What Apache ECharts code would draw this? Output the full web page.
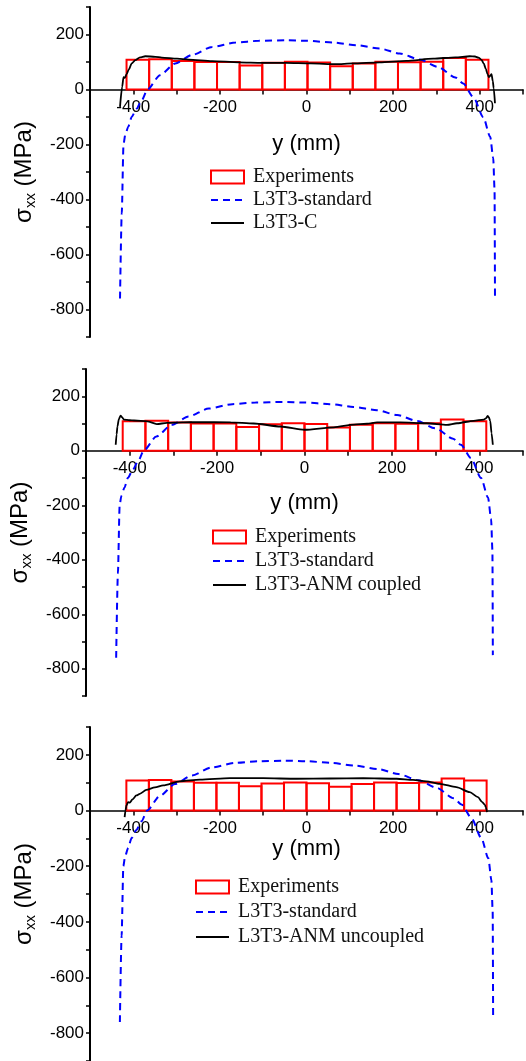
<!DOCTYPE html>
<html>
<head>
<meta charset="utf-8">
<script src="https://cdn.jsdelivr.net/npm/echarts@6/dist/echarts.min.js"></script>
<style>
html,body{margin:0;padding:0;background:#fff;}
#chart{width:526px;height:1061px;}
</style>
</head>
<body>
<div id="chart"></div>
<script>
// Experiments (same measurements in every panel): bar centres (mm), bar width (mm), stress (MPa)
const expCenters = [-390,-338,-286,-234,-182,-130,-78,-26,26,78,130,182,234,286,338,390];
const expWidth = 52;
const expValues = [108,110,104,100,100,87,97,101,98,85,95,101,99,101,115,108];

// L3T3-standard (blue dashed)
const stdX = [-431,-427,-423,-419,-412,-404,-393,-381,-368,-339,-304,-265,-219,-165,-112,-50,0,58,112,166,212,258,300,340,358,381,404,420,427,430,431];
const stdY = [-760,-450,-200,-165,-135,-99,-70,-39,0,52,95,126,155,171,177,179,177,171,161,149,131,109,82,44,22,-27,-100,-172,-250,-364,-750];

// Panel 1: L3T3-C
const cX = [-431,-426,-423,-420,-416,-411,-404,-396,-385,-373,-350,-335,-300,-273,-219,-158,-104,-50,8,65,104,166,227,289,340,373,385,393,400,405,410,414,417,420,423,426,428,431];
const cY = [-63,10,45,42,55,72,95,107,117,121,119,116,112,109,103,99,97,97,95,92,95,99,104,112,117,121,120,116,108,95,75,55,45,50,56,30,5,-50];

// Panel 2: L3T3-ANM coupled
const aX = [-432,-430,-428,-425,-421,-417,-413,-400,-390,-360,-338,-315,-280,-245,-169,-116,-55,0,67,113,143,166,219,280,326,349,387,410,416,419,422,425,428,431];
const aY = [22,60,89,115,129,122,114,112,111,108,98,102,104,105,104,100,89,77,86,96,99,104,104,101,95,101,110,114,120,128,122,110,65,22];

// Panel 3: L3T3-ANM uncoupled
const uX = [-420,-418,-416,-412,-408,-402,-393,-385,-370,-350,-331,-293,-246,-177,-100,-23,54,131,208,246,277,308,346,377,396,406,412,414,417];
const uY = [-24,0,18,30,28,40,54,60,74,83,90,105,111,116,116,114,115,116,114,110,105,96,84,66,48,30,20,12,-6];

// Axis ticks
const xTickLabels = [-400,-200,0,200,400];
const yTickLabels = [200,0,-200,-400,-600,-800];

const zip = (xs, ys) => xs.map((x, i) => [x, ys[i]]);

const modelNames = ['L3T3-C', 'L3T3-ANM coupled', 'L3T3-ANM uncoupled'];
const modelData = [zip(cX, cY), zip(aX, aY), zip(uX, uY)];

const X_MIN = -500, X_MAX = 500, Y_MIN = -900, Y_MAX = 300;

const grids = [
  {left: 90, top: 7, width: 435, height: 330},
  {left: 86, top: 369, width: 437, height: 327},
  {left: 90, top: 727, width: 433, height: 334}
];
// helper grids whose bottom edge sits on the y = 0 line of each panel (carry the x axis)
const axisGrids = grids.map(g => ({left: g.left, top: g.top, width: g.width,
  height: g.height * (Y_MAX - 0) / (Y_MAX - Y_MIN)}));

const xNameGaps = [43, 41, 27];
const legendPos = [
  {left: 210, top: 167, itemGap: 3},
  {left: 212, top: 527, itemGap: 4},
  {left: 195, top: 877, itemGap: 5}
];

const sans = 'Liberation Sans, Arial, Helvetica, sans-serif';
const serif = 'Liberation Serif, Times New Roman, serif';
const noSymbol = {color: 'rgba(0,0,0,0)', borderColor: 'rgba(0,0,0,0)', borderWidth: 0};

const option = {
  backgroundColor: '#fff',
  animation: false,
  grid: grids.concat(axisGrids),
  xAxis: grids.map((g, i) => ({
    type: 'value', gridIndex: i, min: X_MIN, max: X_MAX, interval: 100, show: false
  })).concat(axisGrids.map((g, i) => ({
    type: 'value', gridIndex: 3 + i, min: X_MIN, max: X_MAX, interval: 100,
    name: 'y (mm)', nameLocation: 'middle', nameGap: xNameGaps[i],
    nameTextStyle: {fontFamily: sans, fontSize: 22, color: '#000'},
    axisLine: {onZero: false, lineStyle: {color: '#000', width: 1.5}},
    axisTick: {show: true, inside: false, length: 5, lineStyle: {color: '#000', width: 1.5}},
    axisLabel: {
      margin: 9, fontFamily: sans, fontSize: 17, color: '#000',
      formatter: v => xTickLabels.indexOf(v) >= 0 ? String(v) : ''
    },
    splitLine: {show: false}
  }))),
  yAxis: grids.map((g, i) => ({
    type: 'value', gridIndex: i, min: Y_MIN, max: Y_MAX, interval: 100,
    name: '{s|σ}{sub|xx}{s| (MPa)}', nameLocation: 'middle', nameGap: 52, nameRotate: 90,
    nameTextStyle: {
      fontFamily: sans, fontSize: 24, color: '#000',
      rich: {
        s: {fontFamily: sans, fontSize: 24, color: '#000', lineHeight: 28},
        sub: {fontFamily: sans, fontSize: 15, color: '#000', verticalAlign: 'bottom', lineHeight: 28, padding: [9, 0, 0, 0]}
      }
    },
    axisLine: {onZero: false, lineStyle: {color: '#000', width: 2}},
    axisTick: {show: true, inside: false, length: 4, lineStyle: {color: '#000', width: 1.5}},
    axisLabel: {
      margin: 6, fontFamily: sans, fontSize: 17, color: '#000',
      formatter: v => yTickLabels.indexOf(v) >= 0 ? String(v) : ''
    },
    splitLine: {show: false}
  })).concat(axisGrids.map((g, i) => ({
    type: 'value', gridIndex: 3 + i, min: 0, max: 1, show: false
  }))),
  legend: grids.map((g, i) => ({
    orient: 'vertical', left: legendPos[i].left, top: legendPos[i].top,
    itemGap: legendPos[i].itemGap, itemWidth: 33, itemHeight: 13, padding: 0,
    selectedMode: false,
    textStyle: {fontFamily: serif, fontSize: 20, lineHeight: 20, color: '#111', padding: [0, 0, 0, 4]},
    data: [
      {name: 'Experiments', icon: 'rect', itemStyle: {color: 'rgba(0,0,0,0)', borderColor: '#ff0000', borderWidth: 2}},
      {name: 'L3T3-standard', itemStyle: noSymbol},
      {name: modelNames[i], itemStyle: noSymbol}
    ]
  })),
  series: []
};

grids.forEach((g, i) => {
  option.series.push({
    name: 'Experiments', type: 'custom', xAxisIndex: i, yAxisIndex: i,
    itemStyle: {color: 'rgba(0,0,0,0)', borderColor: '#ff0000', borderWidth: 2},
    data: expCenters.map((c, k) => [c, expValues[k]]),
    encode: {x: 0, y: 1},
    renderItem: (params, api) => {
      const c = api.value(0), h = api.value(1);
      const p0 = api.coord([c - expWidth / 2, h]);
      const p1 = api.coord([c + expWidth / 2, 0]);
      return {
        type: 'rect',
        shape: {x: p0[0], y: p0[1], width: p1[0] - p0[0], height: p1[1] - p0[1]},
        style: {fill: 'none', stroke: '#ff0000', lineWidth: 2}
      };
    },
    z: 2
  });
  option.series.push({
    name: 'L3T3-standard', type: 'line', xAxisIndex: i, yAxisIndex: i,
    data: zip(stdX, stdY), symbol: 'none', smooth: 0.25, smoothMonotone: 'x',
    lineStyle: {color: '#0000ff', width: 2, type: [7, 5]},
    itemStyle: {color: '#0000ff'}, z: 3
  });
  option.series.push({
    name: modelNames[i], type: 'line', xAxisIndex: i, yAxisIndex: i,
    data: modelData[i], symbol: 'none', smooth: 0.25, smoothMonotone: 'x',
    lineStyle: {color: '#000', width: 1.8},
    itemStyle: {color: '#000'}, z: 4
  });
});

const chart = echarts.init(document.getElementById('chart'), null, {renderer: 'canvas'});
chart.setOption(option);
</script>
</body>
</html>
